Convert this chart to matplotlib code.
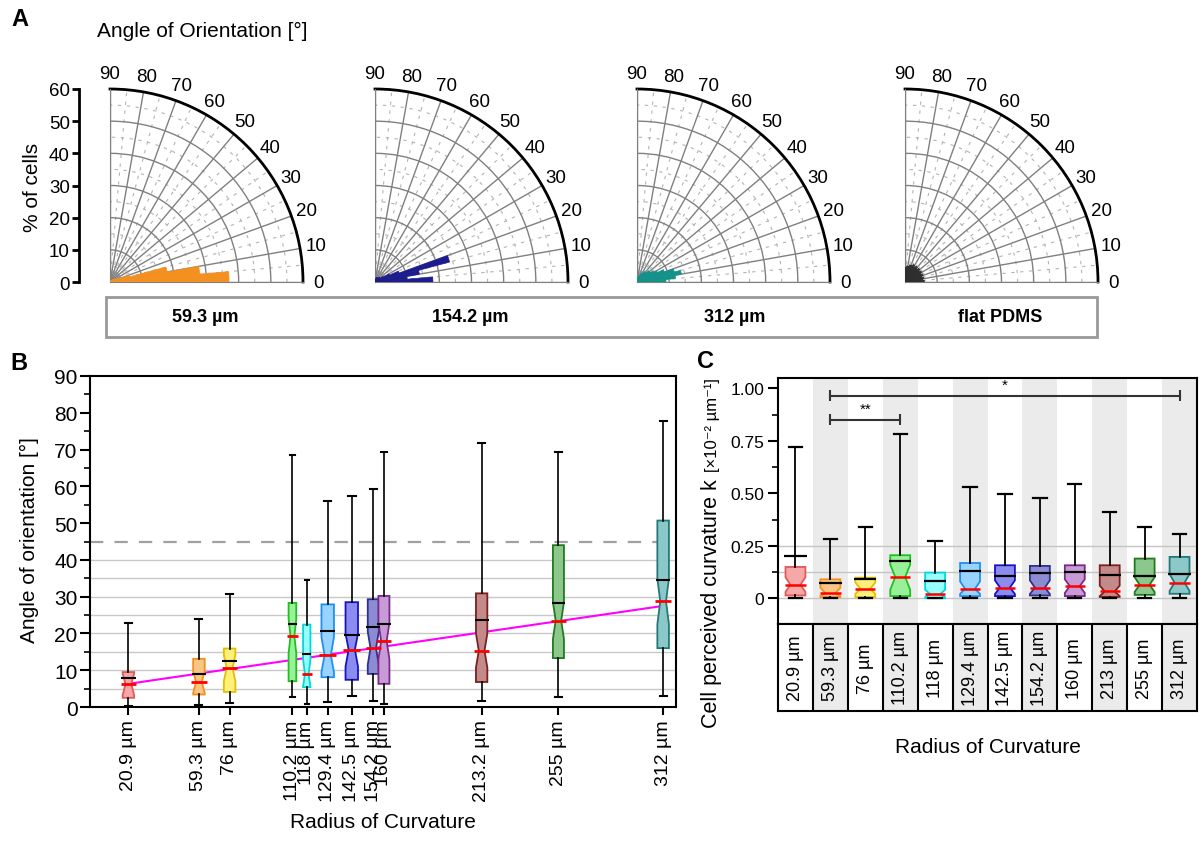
import numpy as np
import matplotlib.pyplot as plt
from matplotlib.patches import Rectangle
from matplotlib.ticker import MultipleLocator

plt.rcParams['font.family'] = ['Liberation Sans', 'DejaVu Sans']

W, H = 1202, 845

# ---- panel A: % of cells per 5 degree orientation bin (0-90)
bin_left = np.arange(0, 90, 5)
pct_59 = [37, 28, 18, 6, 3, 2, 1.5, 1, 1, 0.6, 0.5, 0.4, 0.3, 0.2, 0.2, 0.2, 0.1, 0.1]
pct_154 = [18, 10, 14, 24, 8, 5, 3, 2, 2, 2, 1.5, 1.5, 1.5, 1.5, 1.5, 1, 1, 0.5]
pct_312 = [9, 12, 14, 12, 9, 7, 6, 5, 5, 4, 4, 3, 3, 2, 2, 1.5, 1, 0.5]
pct_flat = [6, 5.5, 6, 5.5, 6, 5.5, 6, 5.5, 6, 5.5, 6, 5.5, 6, 5.5, 5.5, 5, 5, 4.5]
polar_names = ['59.3 µm', '154.2 µm', '312 µm', 'flat PDMS']
theta_ticks = [0, 10, 20, 30, 40, 50, 60, 70, 80, 90]

# ---- panel B: angle of orientation vs radius of curvature
radius_b = [20.9, 59.3, 76, 110.2, 118, 129.4, 142.5, 154.2, 160, 213.2, 255, 312]
labels_b = ['20.9 µm', '59.3 µm', '76 µm', '110.2 µm', '118 µm', '129.4 µm',
            '142.5 µm', '154.2 µm', '160 µm', '213.2 µm', '255 µm', '312 µm']
b_whislo = [0.2, 0.6, 1.2, 2.7, 0.9, 1.4, 2.9, 1.7, 0.9, 1.6, 2.6, 3.1]
b_q1 = [2.5, 3.4, 4.1, 7.0, 5.4, 8.1, 7.4, 9.0, 6.3, 6.8, 13.3, 16.0]
b_med = [6.2, 6.8, 10.6, 19.3, 8.9, 14.1, 15.6, 16.0, 17.9, 15.3, 23.5, 28.7]
b_mean = [7.9, 9.1, 12.5, 22.6, 14.3, 20.7, 19.5, 21.8, 22.5, 23.7, 28.4, 34.6]
b_q3 = [9.5, 13.1, 15.9, 28.3, 22.4, 27.9, 28.5, 29.3, 30.2, 30.9, 44.0, 50.7]
b_whishi = [22.8, 24.0, 30.6, 68.6, 34.4, 55.9, 57.4, 59.2, 69.4, 71.8, 69.4, 77.8]
b_cilo = [3.2, 3.8, 7.0, 14.5, 5.6, 9.5, 11.0, 11.5, 13.0, 10.7, 18.5, 22.5]
b_cihi = [9.2, 9.8, 14.2, 24.0, 13.0, 19.0, 20.0, 20.5, 23.0, 20.0, 28.5, 35.0]
fit_b0, fit_b1 = 4.78, 0.0728   # linear fit of medians

# ---- panel C: cell perceived curvature
labels_c = ['20.9 µm', '59.3 µm', '76 µm', '110.2 µm', '118 µm', '129.4 µm',
            '142.5 µm', '154.2 µm', '160 µm', '213 µm', '255 µm', '312 µm']
c_whislo = [0, 0, 0, 0, 0, 0, 0, 0, 0, 0, 0, 0]
c_q1 = [0.013, 0.005, 0.005, 0.010, 0.0, 0.010, 0.010, 0.013, 0.010, 0.006, 0.016, 0.021]
c_med = [0.064, 0.024, 0.045, 0.101, 0.019, 0.045, 0.051, 0.051, 0.058, 0.032, 0.064, 0.074]
c_mean = [0.202, 0.074, 0.093, 0.179, 0.082, 0.130, 0.107, 0.119, 0.123, 0.109, 0.106, 0.115]
c_q3 = [0.149, 0.090, 0.098, 0.205, 0.122, 0.168, 0.157, 0.154, 0.157, 0.157, 0.189, 0.197]
c_whishi = [0.723, 0.282, 0.341, 0.785, 0.272, 0.529, 0.498, 0.478, 0.546, 0.410, 0.341, 0.304]
c_cilo = [0.030, 0.010, 0.020, 0.040, 0.005, 0.020, 0.020, 0.020, 0.025, 0.010, 0.030, 0.035]
c_cihi = [0.100, 0.050, 0.075, 0.160, 0.040, 0.080, 0.085, 0.085, 0.090, 0.060, 0.100, 0.115]
sig_pairs = [(1, 3, 0.85, '**'), (1, 11, 0.966, '*')]

edge_cols = ['#e05a5a', '#f09020', '#e0c000', '#20c020', '#00d8d8', '#2090f0',
             '#1515c0', '#30308f', '#7a2a8a', '#7a2020', '#207a20', '#207a7a']
face_cols = ['#f6a8a8', '#f9c585', '#fff07a', '#98f098', '#98ffff', '#98d4ff',
             '#8c8cf0', '#8c8cd4', '#c89ad6', '#c48a8a', '#8cc88c', '#8cc8c8']


def rect(x0, y0, x1, y1):
    return [x0 / W, 1 - y1 / H, (x1 - x0) / W, (y1 - y0) / H]


def ftxt(x, y, s, **kw):
    fig.text(x / W, 1 - y / H, s, **kw)


fig = plt.figure(figsize=(W / 100, H / 100), dpi=100)

# ================= A =================
R = 193
cy = 283
centers = [110, 375, 637, 905]
polar_data = [pct_59, pct_154, pct_312, pct_flat]
polar_cols = ['#f39020', '#1c1c8e', '#13928a', '#2e2e2e']
th = np.linspace(0, np.pi / 2, 120)
for k in range(4):
    cx = centers[k]
    if k == 0:
        axs = fig.add_axes(rect(cx, cy - R, cx + R, cy))
        axs.set_ylim(0, 60)
        axs.set_yticks(range(0, 61, 10))
        axs.set_xticks([])
        axs.patch.set_visible(False)
        for s in ['top', 'right', 'bottom']:
            axs.spines[s].set_visible(False)
        axs.spines['left'].set_position(('outward', 22))
        axs.spines['left'].set_linewidth(2)
        axs.tick_params(axis='y', length=5, width=2, labelsize=13.5, pad=2)
    ax = fig.add_axes(rect(cx, cy - R, cx + R, cy), projection='polar')
    ax.set_thetamin(0)
    ax.set_thetamax(90)
    ax.set_ylim(0, 60)
    ax.set_thetagrids(theta_ticks, labels=[str(t) for t in theta_ticks], fontsize=13.5)
    ax.set_rgrids([10, 20, 30, 40, 50], labels=[])
    ax.grid(True, color='#808080', lw=1)
    ax.tick_params(axis='x', pad=1)
    ax.spines['polar'].set_linewidth(2)
    ax.spines['start'].set_color('#808080')
    ax.spines['end'].set_color('#808080')
    for t in range(5, 90, 10):
        ax.plot(np.deg2rad([t, t]), [0, 60], color='#b4b4b4', lw=0.8,
                ls=(0, (3, 5)), zorder=1)
    for r in range(5, 60, 10):
        ax.plot(th, np.full_like(th, r), color='#b4b4b4', lw=0.8,
                ls=(0, (3, 5)), zorder=1)
    ax.bar(np.deg2rad(bin_left), polar_data[k], width=np.deg2rad(5), align='edge',
           color=polar_cols[k], edgecolor=polar_cols[k], lw=0.5, zorder=3)

fig.add_artist(Rectangle((106 / W, 1 - 338 / H), 991 / W, 40 / H, transform=fig.transFigure,
                         fill=False, edgecolor='#999999', lw=2))
for x, s in zip([205, 470, 735, 1000], polar_names):
    ftxt(x, 318, s, ha='center', va='center', fontsize=13, fontweight='bold')

ftxt(20, 20, 'A', ha='center', va='center', fontsize=17, fontweight='bold')
ftxt(97, 31, 'Angle of Orientation [°]', ha='left', va='center', fontsize=15)
ftxt(32, 187, '% of cells', ha='center', va='center', rotation=90, fontsize=15)

# ================= B =================
axb = fig.add_axes(rect(90, 377, 676, 708))
box_w_b = [6.3, 6.3, 6.3, 4.2, 4.0, 6.8, 6.8, 6.0, 6.0, 6.2, 6.0, 6.3]
stats_b = []
for i in range(12):
    stats_b.append(dict(med=b_med[i], q1=b_q1[i], q3=b_q3[i], whislo=b_whislo[i],
                        whishi=b_whishi[i], cilo=b_cilo[i], cihi=b_cihi[i],
                        mean=b_mean[i], fliers=[]))
bp = axb.bxp(stats_b, positions=radius_b, widths=box_w_b, shownotches=True,
             patch_artist=True, showfliers=False, manage_ticks=False,
             capwidths=[w * 0.6 for w in box_w_b],
             medianprops=dict(visible=False),
             whiskerprops=dict(color='k', lw=1.2), capprops=dict(color='k', lw=1.5))
for patch, ec, fc in zip(bp['boxes'], edge_cols, face_cols):
    patch.set_facecolor(fc)
    patch.set_edgecolor(ec)
    patch.set_linewidth(1.3)
xb = np.array(radius_b)
wb = np.array(box_w_b)
axb.hlines(b_mean, xb - wb * 0.62, xb + wb * 0.62, color='k', lw=1.5, zorder=5)
axb.hlines(b_med, xb - wb * 0.68, xb + wb * 0.68, color='#ff0000', lw=2, zorder=6)
xs = np.array([radius_b[0], radius_b[-1]])
axb.plot(xs, fit_b0 + fit_b1 * xs, color='#ff00ff', lw=1.5, zorder=1.5)
for y in range(5, 41, 5):
    axb.axhline(y, color='#c8c8c8', lw=1, zorder=0)
axb.axhline(45, color='#a0a0a0', lw=1.6, ls=(0, (6, 5)), zorder=0)
axb.set_xlim(0, 319)
axb.set_ylim(0, 90)
axb.set_yticks(range(0, 91, 10))
axb.yaxis.set_minor_locator(MultipleLocator(5))
axb.set_xticks(radius_b)
axb.set_xticklabels(labels_b, rotation=90, fontsize=14)
axb.tick_params(axis='y', labelsize=15, length=7, width=1.5, pad=2)
axb.tick_params(axis='y', which='minor', length=4, width=1.2)
axb.tick_params(axis='x', length=6, width=1.5, pad=3)
for s in axb.spines.values():
    s.set_linewidth(1.5)
ftxt(19, 363, 'B', ha='center', va='center', fontsize=17, fontweight='bold')
ftxt(29, 540, 'Angle of orientation [°]', ha='center', va='center', rotation=90, fontsize=15)
ftxt(383, 823, 'Radius of Curvature', ha='center', va='center', fontsize=15)

# ================= C =================
axc = fig.add_axes(rect(778, 379, 1197, 625))
axt = fig.add_axes(rect(778, 625, 1197, 712))
pos_c = np.arange(12)
for a in (axc, axt):
    for i in range(1, 12, 2):
        a.axvspan(i - 0.5, i + 0.5, color='#ebebeb', lw=0, zorder=0)
    a.set_xlim(-0.5, 11.5)
for y in [0, 0.125, 0.25]:
    axc.axhline(y, color='#c4c4c4', lw=1, zorder=0.5)
stats_c = []
for i in range(12):
    stats_c.append(dict(med=c_med[i], q1=c_q1[i], q3=c_q3[i], whislo=c_whislo[i],
                        whishi=c_whishi[i], cilo=c_cilo[i], cihi=c_cihi[i],
                        mean=c_mean[i], fliers=[]))
bpc = axc.bxp(stats_c, positions=pos_c, widths=0.57, shownotches=True,
              patch_artist=True, showfliers=False, manage_ticks=False, capwidths=0.38,
              medianprops=dict(visible=False),
              whiskerprops=dict(color='k', lw=1.3), capprops=dict(color='k', lw=1.6))
for patch, ec, fc in zip(bpc['boxes'], edge_cols, face_cols):
    patch.set_facecolor(fc)
    patch.set_edgecolor(ec)
    patch.set_linewidth(1.3)
axc.hlines(c_mean, pos_c - 0.32, pos_c + 0.32, color='k', lw=1.6, zorder=5)
axc.hlines(c_med, pos_c - 0.29, pos_c + 0.29, color='#ff0000', lw=1.8, zorder=6)
for i0, i1, y, star in sig_pairs:
    axc.plot([i0, i1], [y, y], color='#333333', lw=1.5)
    axc.vlines([i0, i1], y - 0.026, y + 0.026, color='#333333', lw=1.5)
    axc.text((i0 + i1) / 2, y + 0.02, star, ha='center', va='bottom', fontsize=11)
axc.set_ylim(-0.123, 1.05)
axc.set_yticks([0, 0.25, 0.5, 0.75, 1.0])
axc.set_yticklabels(['0', '0.25', '0.50', '0.75', '1.00'])
axc.yaxis.set_minor_locator(MultipleLocator(0.125))
axc.set_xticks([])
axc.tick_params(axis='y', labelsize=12.5, length=7, width=1.5, pad=3)
axc.tick_params(axis='y', which='minor', length=4, width=1.2)
for s in axc.spines.values():
    s.set_linewidth(1.5)

axt.set_ylim(0, 1)
axt.set_xticks([])
axt.set_yticks([])
for i in range(11):
    axt.axvline(i + 0.5, color='k', lw=1.5)
for i, s in enumerate(labels_c):
    axt.text(i, 0.5, s, rotation=90, ha='center', va='center', fontsize=13)
for s in axt.spines.values():
    s.set_linewidth(1.5)

ftxt(705, 362, 'C', ha='center', va='center', fontsize=17, fontweight='bold')
ftxt(712, 728, 'Cell perceived curvature k', ha='center', va='bottom', rotation=90, fontsize=15.5)
ftxt(712, 472, '[×10⁻² µm⁻¹]', ha='center', va='bottom', rotation=90, fontsize=12)
ftxt(988, 748, 'Radius of Curvature', ha='center', va='center', fontsize=15)

fig.savefig('out.png', dpi=100)
